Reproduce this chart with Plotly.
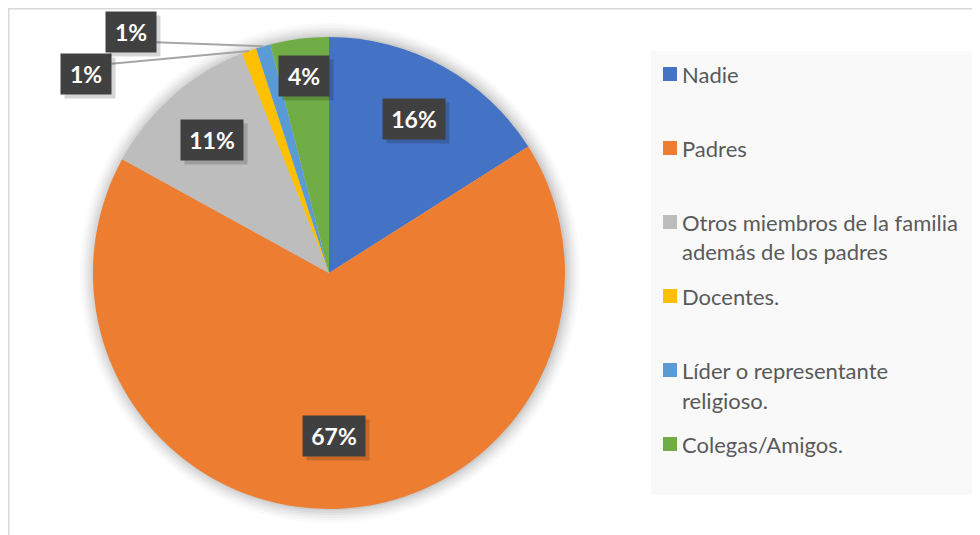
import math
import plotly.graph_objects as go

# datos del grafico
categorias = ["Nadie", "Padres", "Otros miembros de la familia además de los padres",
              "Docentes.", "Líder o representante religioso.", "Colegas/Amigos."]
porcentajes = [16, 67, 11, 1, 1, 4]
colores = ["#4472C4", "#ED7D31", "#BDBDBD", "#FFC000", "#5B9BD5", "#70AD47"]
leyenda_txt = ["Nadie", "Padres", "Otros miembros de la familia<br>además de los padres",
               "Docentes.", "Líder o representante<br>religioso.", "Colegas/Amigos."]

# posicion de las etiquetas (fraccion del radio, angulo propio si la etiqueta va fuera)
etq_radio = [0.745, 0.69, 0.75, 1.33, 1.32, 0.84]
etq_angulo = [None, None, None, 309.4, 320.6, None]

W, H = 980, 535
OFF = 8  # margen del body de la pagina
CX, CY, R = 329, 273, 236


def px(x):
    return (x - OFF) / W


def py_(y):
    return 1 - (y - OFF) / H


fig = go.Figure()
fig.add_trace(go.Pie(
    labels=categorias,
    values=porcentajes,
    marker=dict(colors=colores, line=dict(width=0)),
    sort=False,
    direction="clockwise",
    rotation=0,
    textinfo="none",
    hoverinfo="label+percent",
    showlegend=False,
    domain=dict(x=[px(CX - R), px(CX + R)], y=[py_(CY + R), py_(CY - R)]),
))

shapes = []
# marco del grafico
shapes.append(dict(type="rect", xref="paper", yref="paper", x0=px(8.5), x1=1.05, y0=py_(8.5), y1=-0.05,
                   line=dict(color="#D9D9D9", width=2), fillcolor="rgba(0,0,0,0)", layer="below"))
# sombra suave del pastel
for i, a in enumerate([0.02, 0.025, 0.03, 0.035, 0.045, 0.06]):
    rr = R + 14 - i * 2.5
    shapes.append(dict(type="circle", xref="paper", yref="paper",
                       x0=px(CX + 1 - rr), x1=px(CX + 1 + rr), y0=py_(CY + rr), y1=py_(CY - rr),
                       line=dict(width=0), fillcolor="rgba(0,0,0,%.3f)" % a, layer="below"))
# fondo de la leyenda
shapes.append(dict(type="rect", xref="paper", yref="paper", x0=px(651), x1=px(977), y0=py_(495), y1=py_(51),
                   line=dict(width=0), fillcolor="#F9F9F9", layer="below"))

annotations = []
total = sum(porcentajes)
acum = 0
for i, v in enumerate(porcentajes):
    mid = (acum + v / 2) / total * 360
    acum += v
    ang = etq_angulo[i] if etq_angulo[i] is not None else mid
    lx = CX + etq_radio[i] * R * math.sin(math.radians(ang))
    ly = CY - etq_radio[i] * R * math.cos(math.radians(ang))
    txt = "%d%%" % round(v / total * 100)
    bw = 44 if len(txt) < 3 else 56
    bh = 34
    # linea guia para las etiquetas fuera del pastel
    if etq_angulo[i] is not None:
        tx = CX + R * math.sin(math.radians(mid))
        ty = CY - R * math.cos(math.radians(mid))
        sx = lx + bw / 2 + 3
        sy = min(max(ty, ly - bh / 2 + 7), ly + bh / 2 - 7)
        shapes.append(dict(type="line", xref="paper", yref="paper", x0=px(sx), y0=py_(sy),
                           x1=px(tx), y1=py_(ty), line=dict(color="#A6A6A6", width=2)))
    # sombra de la caja
    annotations.append(dict(x=px(lx + 4), y=py_(ly + 4), xref="paper", yref="paper", text=" ",
                            xanchor="center", yanchor="middle",
                            showarrow=False, width=bw, height=bh, borderpad=3,
                            bgcolor="rgba(0,0,0,0.16)", font=dict(size=20)))
    annotations.append(dict(x=px(lx), y=py_(ly), xref="paper", yref="paper", text="<b>%s</b>" % txt,
                            xanchor="center", yanchor="middle",
                            showarrow=False, width=bw, height=bh, borderpad=3, bgcolor="#404040",
                            font=dict(family="Lato", size=23, color="white")))

# leyenda manual
y0 = 74
paso = 74
for i, t in enumerate(leyenda_txt):
    yy = y0 + i * paso
    shapes.append(dict(type="rect", xref="paper", yref="paper", x0=px(663), x1=px(677),
                       y0=py_(yy + 7), y1=py_(yy - 7), line=dict(width=0), fillcolor=colores[i]))
    for j, linea in enumerate(t.split("<br>")):
        annotations.append(dict(x=px(680), y=py_(yy + j * 30), xref="paper", yref="paper", text=linea,
                                showarrow=False, xanchor="left", yanchor="middle",
                                font=dict(family="Lato", size=22, color="#595959")))

fig.update_layout(
    width=W, height=H,
    margin=dict(l=0, r=0, t=0, b=0),
    paper_bgcolor="white",
    plot_bgcolor="white",
    shapes=shapes,
    annotations=annotations,
)

fig.write_html("out.html")
